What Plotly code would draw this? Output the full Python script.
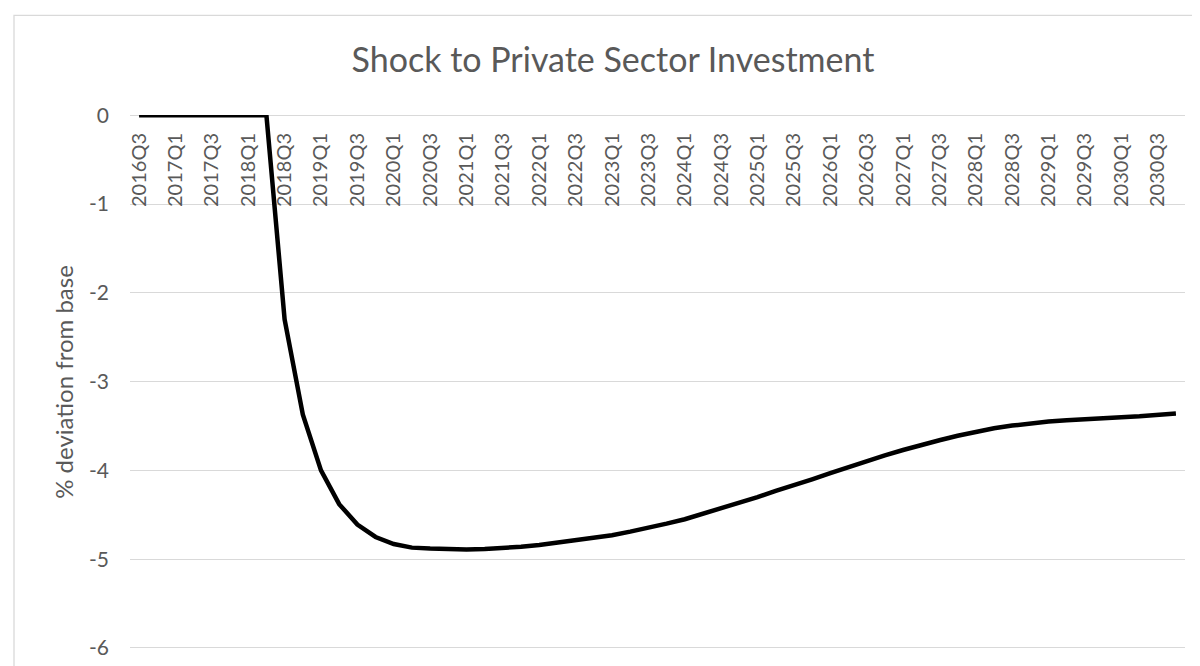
import plotly.graph_objects as go

# ---- data ----
quarters = []
for yr in range(2016, 2031):
    for q in range(1, 5):
        if yr == 2016 and q < 3:
            continue
        quarters.append(f"{yr}Q{q}")

deviation = [
    0, 0, 0, 0, 0, 0, 0, 0,
    -2.30, -3.37, -4.00, -4.38, -4.61, -4.75, -4.83, -4.87,
    -4.88, -4.89, -4.89, -4.885, -4.875, -4.86, -4.84, -4.815,
    -4.79, -4.76, -4.73, -4.69, -4.65, -4.60, -4.55, -4.49,
    -4.43, -4.37, -4.30, -4.23, -4.17, -4.10, -4.03, -3.96,
    -3.89, -3.83, -3.77, -3.71, -3.66, -3.61, -3.565, -3.525,
    -3.495, -3.47, -3.45, -3.435, -3.42, -3.41, -3.40, -3.39,
    -3.375, -3.36,
]

x_tick_labels = quarters[::2]
y_tick_values = [0, -1, -2, -3, -4, -5, -6]
y_tick_labels = ["0", "-1", "-2", "-3", "-4", "-5", "-6"]

title_text = "Shock to Private Sector Investment"
y_title = "% deviation from base"

# ---- layout constants (pixels) ----
W, H = 1200, 666
L, R, T, B = 122, 23, 107, 25
TEXT = "#595959"
GRID = "#d9d9d9"
FONT = "Lato"

fig = go.Figure()
fig.add_trace(go.Scatter(
    x=quarters, y=deviation, mode="lines",
    line=dict(color="black", width=4.5),
    hoverinfo="x+y", showlegend=False,
))

pw = W - L - R
ph = H - T - B
fig.add_shape(
    type="rect", xref="paper", yref="paper",
    x0=(6 - L) / pw, x1=(W + 20 - L) / pw,
    y0=-(B + 20) / ph, y1=(H - B - 7.3) / ph,
    line=dict(color=GRID, width=1.3), fillcolor="rgba(0,0,0,0)", layer="below",
)

fig.update_layout(
    width=W, height=H,
    margin=dict(l=L, r=R, t=T, b=B, pad=0),
    paper_bgcolor="white", plot_bgcolor="white",
    font=dict(family=FONT, color=TEXT, size=20),
    title=dict(
        text=title_text, x=605 / W, xanchor="center", xref="container",
        y=1 - 52 / H, yanchor="middle", yref="container",
        font=dict(family=FONT, size=34, color=TEXT),
    ),
    xaxis=dict(
        type="category", range=[-0.5, len(quarters) - 0.5],
        anchor="free", position=1, side="bottom",
        tickmode="array", tickvals=x_tick_labels, ticktext=x_tick_labels,
        tickangle=-90, ticks="", showline=False, showgrid=False, zeroline=False,
        tickfont=dict(family=FONT, size=20, color=TEXT),
        ticklabelstandoff=13, automargin=False,
    ),
    yaxis=dict(
        range=[-6.012, 0.004], tickmode="array", tickvals=y_tick_values, ticktext=y_tick_labels,
        showgrid=True, gridcolor=GRID, gridwidth=1.3,
        zeroline=True, zerolinecolor=GRID, zerolinewidth=1.3,
        showline=False, ticks="",
        tickfont=dict(family=FONT, size=21, color=TEXT),
        ticklabelstandoff=20, automargin=False,
        title=dict(text=y_title, font=dict(family=FONT, size=24, color=TEXT), standoff=8),
    ),
)

fig.write_html("out.html")
